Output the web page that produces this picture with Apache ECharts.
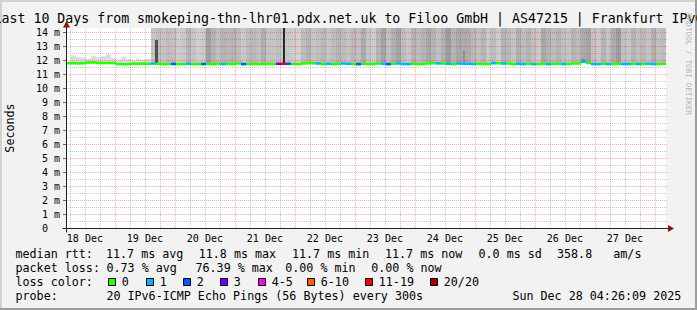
<!DOCTYPE html>
<html><head><meta charset="utf-8">
<script src="https://cdn.jsdelivr.net/npm/echarts@6/dist/echarts.min.js"></script>
<style>html,body{margin:0;padding:0;background:#f2f2f2}#c{width:697px;height:310px}</style>
</head><body><div id="c"></div>
<script>
// ---------------- data (hours since 18 Dec 00:00, values in ms) ----------------
const START_H = 4.4333;   // 18 Dec 04:26
const END_H = 244.4333;   // 28 Dec 04:26
const BUCKET_H = 2;
const Y_MIN = 0, Y_MAX = 14.3;

const titleText = 'Last 10 Days from smokeping-thn-lhr01.pdx.net.uk to Filoo GmbH | AS47215 | Frankfurt IPv6';
const dayLabels = ['18 Dec','19 Dec','20 Dec','21 Dec','22 Dec','23 Dec','24 Dec','25 Dec','26 Dec','27 Dec'];
const dayLabelHours = [12,36,60,84,108,132,156,180,204,228];
const midnightHours = [24,48,72,96,120,144,168,192,216,240];
const sixHourHours = [6,12,18,30,36,42,54,60,66,78,84,90,102,108,114,126,132,138,150,156,162,174,180,186,198,204,210,222,228,234];
const yMajorTicks = [0,1,2,3,4,5,6,7,8,9,10,11,12,13,14];
const yMinorTicks = [0.5,1.5,2.5,3.5,4.5,5.5,6.5,7.5,8.5,9.5,10.5,11.5,12.5,13.5];

const medianMs = [
 11.78,11.78,11.77,11.78,11.83,11.84,11.80,11.79,11.80,11.79,11.72,11.71,11.72,11.75,11.74,11.75,11.74,
 11.76,11.74,11.72,11.72,11.73,11.72,11.72,11.74,11.72,11.72,11.73,11.72,11.72,11.74,11.72,11.73,11.72,11.76,11.72,11.72,11.73,11.72,11.72,
 11.74,11.72,11.74,11.74,11.74,11.72,11.72,11.76,11.78,11.78,11.76,11.72,11.74,11.72,11.73,11.76,11.74,11.72,11.72,11.74,
 11.72,11.73,11.76,11.74,11.72,11.74,11.76,11.72,11.72,11.74,11.72,11.72,11.76,11.78,11.77,11.76,11.74,11.72,11.76,11.74,
 11.74,11.72,11.74,11.72,11.72,11.78,11.78,11.76,11.76,11.72,11.74,11.72,11.74,11.72,11.72,11.74,11.72,11.73,11.74,11.72,
 11.72,11.76,11.76,11.88,11.80,11.72,11.72,11.74,11.72,11.72,11.74,11.72,11.72,11.74,11.72,11.72,11.74,11.72,11.72,11.73];
const lossCount = [
 0,0,0,0,0,0,0,0,0,0, 0,0,0,0,0,0,0,1,0,0,
 0,2,0,0,1,0,0,2,0,0, 0,1,0,0,0,2,0,0,0,0,
 0,0,3,15,2,0,0,0,0,0, 1,0,1,0,0,1,1,0,2,0,
 0,0,0,1,2,0,1,1,1,0, 0,0,0,0,1,0,1,0,1,1,
 1,1,0,0,0,1,0,1,0,0, 1,1,0,1,0,0,1,0,0,1,
 0,0,0,1,0,1,1,0,1,0, 0,1,1,0,1,0,1,1,0,0];
const smokeTopMs = [
 11.9,12.35,12.22,12.2,12.12,12.3,12.22,12.28,12.42,12.18,12.05,12.25,12.1,12.0,12.12,12.05,12.1,
 18,18,18,18,18,18,18,18,18,18,18,18,18,18,18,18,18,18,18,18,18,18,18,
 18,18,18,18,18,18,18,18,18,18,18,18,18,18,18,18,18,18,18,18,
 18,18,18,18,18,18,18,18,18,18,18,18,18,18,18,18,18,18,18,18,
 18,18,18,18,18,18,18,18,18,18,18,18,18,18,18,18,18,18,18,18,
 18,18,18,18,18,18,18,18,18,18,18,18,18,18,18,18,18,18,18,18];
const smokeGray = [
 220,220,220,220,220,220,220,220,220,220,220,220,220,220,220,220,220,
 196,192,196,188,192,204,200,180,196,206,202,160,180,192,180,184,180,188,200,188,184,192,176,
 196,196,192,200,200,204,208,188,180,196,192,184,196,188,180,188,196,184,192,172,
 196,204,180,164,192,176,164,188,200,180,188,180,168,180,192,176,156,180,168,172,
 172,184,192,180,200,188,204,180,184,196,176,188,180,192,200,168,180,188,180,192,
 196,180,188,172,164,192,200,180,196,172,156,192,196,180,192,184,196,176,192,188];
const spikeStartH = [40.0, 91.1, 163.1, 210.95];
const spikeEndH   = [41.2, 92.15, 163.9, 211.9];
const spikeTopMs  = [13.44, 18, 12.7, 12.1];
const spikeGray   = [80, 40, 144, 128];

const lossLabels = ['0','1','2','3','4-5','6-10','11-19','20/20'];
const lossUpper  = [0,1,2,3,5,10,19,20];
const lossColors = ['#26ff00','#00b8ff','#0059ff','#7600ff','#ff00ff','#ff5e00','#ff0000','#a10000'];

const rttLegend = ['11.7 ms avg','11.8 ms max','11.7 ms min','11.7 ms now','0.0 ms sd','358.8   am/s'];
const lossLegend = ['0.73 % avg','76.39 % max','0.00 % min','0.00 % now'];
const probeText = '20 IPv6-ICMP Echo Pings (56 Bytes) every 300s';
const stampText = 'Sun Dec 28 04:26:09 2025';

// ---------------- layout constants ----------------
const MONO = 'DejaVu Sans Mono';
const rttX = [106, 198.7, 292, 385, 478.5, 557];
const lossX = [106.5, 195.5, 285.2, 371.2];
const swatchX = [108, 146, 183, 220, 258, 307, 365, 430];
const rowY = [253.6, 267.6, 281.6, 295.5];

function lossColor(c) {
  for (let k = 0; k < lossUpper.length; k++) if (c <= lossUpper[k]) return lossColors[k];
  return lossColors[lossColors.length - 1];
}

const smokeData = medianMs.map((m, i) => [START_H + i * BUCKET_H, START_H + (i + 1) * BUCKET_H, m, smokeTopMs[i], smokeGray[i]]);
const medianData = medianMs.map((m, i) => [START_H + i * BUCKET_H, START_H + (i + 1) * BUCKET_H, m, lossCount[i]]);
const spikeData = spikeStartH.map((s, i) => [s, spikeEndH[i], medianMs[Math.floor((s - START_H) / BUCKET_H)], spikeTopMs[i], spikeGray[i]]);

function bandRender(params, api) {
  const a = api.coord([api.value(0), api.value(3)]);
  const b = api.coord([api.value(1), api.value(2)]);
  const g = api.value(4);
  const x0 = Math.round(a[0]), x1 = Math.round(b[0]);
  const top = Math.max(a[1], params.coordSys.y);
  return {type: 'rect', shape: {x: x0, y: top, width: Math.max(1, x1 - x0), height: b[1] - top},
          style: {fill: 'rgb(' + g + ',' + g + ',' + g + ')'}};
}

function vLines(hours, color, z) {
  return {
    type: 'custom', z: z, silent: true, animation: false,
    data: hours.map(h => [h, Y_MIN]), encode: {x: 0, y: 1},
    renderItem(params, api) {
      const p0 = api.coord([api.value(0), Y_MIN]);
      const p1 = api.coord([api.value(0), Y_MAX]);
      const x = Math.round(p0[0]) + 0.5;
      return {type: 'line', shape: {x1: x, y1: p0[1], x2: x, y2: p1[1]},
              style: {stroke: color, lineWidth: 1, lineDash: [1, 1]}};
    }
  };
}
function hLines(values, color, z, tick) {
  return {
    type: 'custom', z: z, silent: true, animation: false,
    data: values.map(v => [START_H, v]), encode: {x: 0, y: 1},
    renderItem(params, api) {
      const v = api.value(1);
      const p0 = api.coord([START_H, v]);
      const p1 = api.coord([END_H, v]);
      const y = Math.round(p0[1]) + 0.5;
      const kids = [];
      if (v > 0) kids.push({type: 'line', shape: {x1: p0[0], y1: y, x2: p1[0] + 1, y2: y},
                            style: {stroke: color, lineWidth: 1, lineDash: [1, 1]}});
      if (tick) kids.push({type: 'line', shape: {x1: Math.round(p0[0]) - 3, y1: y, x2: Math.round(p0[0]), y2: y},
                           style: {stroke: '#666', lineWidth: 1}});
      return {type: 'group', children: kids};
    }
  };
}

function txt(x, y, s, size) {
  return {type: 'text', x: x, y: y, silent: true,
    style: {text: s, font: size + 'px "' + MONO + '"', fill: '#000', align: 'left', verticalAlign: 'middle'}};
}

const graphics = [
  {type: 'rect', shape: {x: 0, y: 0, width: 697, height: 2}, style: {fill: '#d2d2d2'}, silent: true},
  {type: 'rect', shape: {x: 0, y: 0, width: 2, height: 310}, style: {fill: '#d2d2d2'}, silent: true},
  {type: 'rect', shape: {x: 0, y: 308, width: 697, height: 2}, style: {fill: '#9c9c9c'}, silent: true},
  {type: 'rect', shape: {x: 695, y: 0, width: 2, height: 310}, style: {fill: '#9c9c9c'}, silent: true},
  {type: 'text', x: 348.5, y: 18.7, silent: true,
   style: {text: titleText, font: '13.25px "' + MONO + '"', fill: '#000', align: 'center', verticalAlign: 'middle'}},
  {type: 'text', x: 10.2, y: 128, rotation: Math.PI / 2, silent: true,
   style: {text: 'Seconds', font: '11.7px "' + MONO + '"', fill: '#000', align: 'center', verticalAlign: 'middle'}},
  {type: 'text', x: 688, y: 64, rotation: -Math.PI / 2, silent: true,
   style: {text: 'RRDTOOL / TOBI OETIKER', font: '7.7px "' + MONO + '"', fill: '#b4b4b4', align: 'center', verticalAlign: 'middle'}},
  txt(15.5, rowY[0], 'median rtt:', 11.7),
  txt(15.5, rowY[1], 'packet loss:', 11.7),
  txt(15.5, rowY[2], 'loss color:', 11.7),
  txt(15.5, rowY[3], 'probe:', 11.7),
  txt(106.4, rowY[3], probeText, 11.7),
  txt(512.4, rowY[3], stampText, 11.7)
];
rttLegend.forEach((s, i) => graphics.push(txt(rttX[i], rowY[0], s, 11.7)));
lossLegend.forEach((s, i) => graphics.push(txt(lossX[i], rowY[1], s, 11.7)));
lossLabels.forEach((s, i) => {
  graphics.push({type: 'rect', silent: true, shape: {x: swatchX[i] + 0.5, y: 278.5, width: 7, height: 7},
                 style: {fill: lossColors[i], stroke: '#000', lineWidth: 1}});
  graphics.push(txt(swatchX[i] + 13.8, rowY[2], s, 11.7));
});

const chart = echarts.init(document.getElementById('c'), null, {renderer: 'svg'});
chart.setOption({
  animation: false,
  backgroundColor: '#f2f2f2',
  grid: {left: 66, right: 31, top: 28, bottom: 82, show: true, backgroundColor: '#ffffff', borderWidth: 0},
  xAxis: {
    type: 'value', min: START_H, max: END_H,
    axisLine: {show: false}, axisTick: {show: false}, splitLine: {show: false},
    axisLabel: {
      customValues: dayLabelHours, margin: 5, fontFamily: MONO, fontSize: 10, color: '#000',
      formatter: v => { const k = dayLabelHours.indexOf(Math.round(v)); return k >= 0 ? dayLabels[k] : ''; }
    }
  },
  yAxis: {
    type: 'value', min: Y_MIN, max: Y_MAX, interval: 1,
    axisLine: {show: false}, axisTick: {show: false}, splitLine: {show: false},
    axisLabel: {
      margin: 6, fontFamily: MONO, fontSize: 10, color: '#000', showMaxLabel: true,
      formatter: v => (Math.abs(v - Math.round(v)) > 1e-6 || yMajorTicks.indexOf(Math.round(v)) < 0) ? '' : (v === 0 ? '0  ' : (Math.round(v) + ' m'))
    }
  },
  series: [
    {type: 'custom', name: 'smoke', z: 1, silent: true, animation: false, data: smokeData,
     encode: {x: [0, 1], y: [2, 3]}, renderItem: bandRender},
    {type: 'custom', name: 'spikes', z: 2, silent: true, animation: false, data: spikeData,
     encode: {x: [0, 1], y: [2, 3]}, renderItem: bandRender},
    vLines(sixHourHours, 'rgba(120,120,120,0.4)', 3),
    hLines(yMinorTicks, 'rgba(120,120,120,0.4)', 3, false),
    vLines(midnightHours, 'rgba(255,0,0,0.32)', 3),
    hLines(yMajorTicks, 'rgba(255,0,0,0.32)', 3, true),
    {type: 'custom', name: 'median', z: 4, silent: true, animation: false, data: medianData,
     encode: {x: [0, 1], y: 2},
     renderItem(params, api) {
       const a = api.coord([api.value(0), api.value(2)]);
       const b = api.coord([api.value(1), api.value(2)]);
       const x0 = Math.round(a[0]), x1 = Math.round(b[0]);
       return {type: 'rect', shape: {x: x0, y: a[1] - 1.3, width: x1 - x0, height: 2.6},
               style: {fill: lossColor(api.value(3))}};
     }},
    {type: 'custom', name: 'axes', z: 5, silent: true, animation: false, data: [[START_H, 0]],
     encode: {x: 0, y: 1},
     renderItem(params, api) {
       const o = api.coord([START_H, 0]);
       const e = api.coord([END_H, 0]);
       const t = api.coord([START_H, Y_MAX]);
       const ox = Math.round(o[0]) + 0.5, oy = Math.round(o[1]) + 0.5;
       const ex = Math.round(e[0]), ty = Math.round(t[1]);
       return {type: 'group', children: [
         {type: 'line', shape: {x1: ox - 4, y1: oy, x2: ex + 2, y2: oy}, style: {stroke: '#222', lineWidth: 1}},
         {type: 'line', shape: {x1: ox, y1: oy + 4, x2: ox, y2: ty - 1}, style: {stroke: '#222', lineWidth: 1}},
         {type: 'polygon', shape: {points: [[ex + 2, oy - 3.5], [ex + 8, oy], [ex + 2, oy + 3.5]]}, style: {fill: '#8b1010'}},
         {type: 'polygon', shape: {points: [[ox - 3.5, ty - 0.5], [ox, ty - 7], [ox + 3.5, ty - 0.5]]}, style: {fill: '#8b1010'}}
       ]};
     }}
  ],
  graphic: {elements: graphics}
});
</script></body></html>
